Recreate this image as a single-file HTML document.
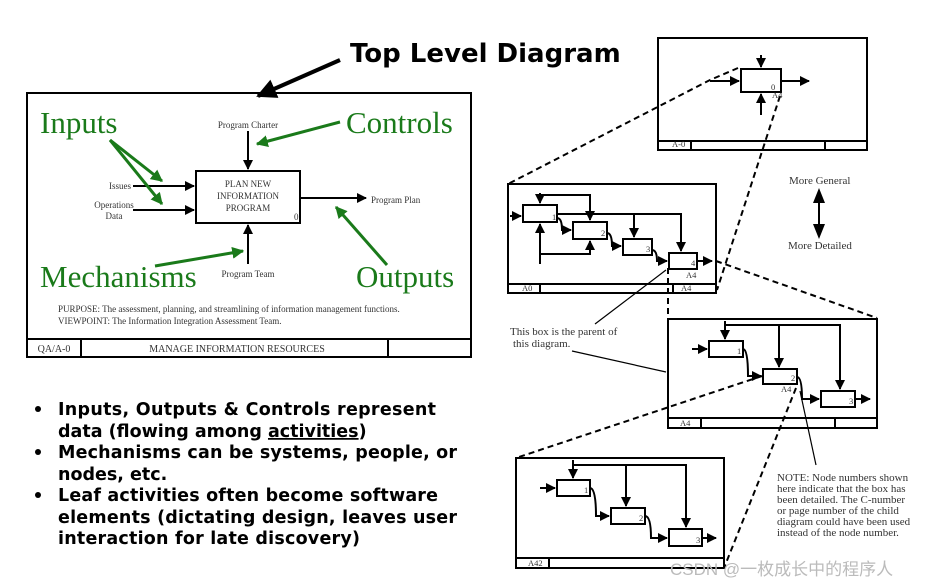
<!DOCTYPE html>
<html><head><meta charset="utf-8"><style>
html,body{margin:0;padding:0;background:#fff;width:937px;height:587px;overflow:hidden}
svg{display:block}
.s{font-family:"Liberation Serif",serif;fill:#333}
.g{font-family:"Liberation Serif",serif;fill:#1a7a1a}
.b{font-family:"DejaVu Sans","Liberation Sans",sans-serif;font-weight:bold;fill:#000}
</style></head><body>
<svg width="937" height="587" viewBox="0 0 937 587" xmlns="http://www.w3.org/2000/svg">
<defs>
<marker id="a" viewBox="0 0 10 10" refX="9" refY="5" markerWidth="5" markerHeight="5" orient="auto"><path d="M0,0L10,5L0,10z" fill="#000"/></marker>
<marker id="ag" viewBox="0 0 10 10" refX="9" refY="5" markerWidth="4" markerHeight="4" orient="auto"><path d="M0,0L10,5L0,10z" fill="#1a7a1a"/></marker>
</defs>
<text x="350" y="62" class="b" font-size="26">Top Level Diagram</text>
<line x1="340" y1="60" x2="258" y2="96" stroke="#000" stroke-width="4" marker-end="url(#a)"/>
<g fill="none" stroke="#000" stroke-width="2">
<rect x="27" y="93" width="444" height="264"/>
<line x1="27" y1="339" x2="471" y2="339"/><line x1="81" y1="339" x2="81" y2="357"/><line x1="388" y1="339" x2="388" y2="357"/>
<rect x="196" y="171" width="104" height="52"/>
</g>
<g stroke="#000" stroke-width="2" fill="none">
<line x1="133" y1="186" x2="194" y2="186" marker-end="url(#a)"/>
<line x1="133" y1="210" x2="194" y2="210" marker-end="url(#a)"/>
<line x1="248" y1="131" x2="248" y2="169" marker-end="url(#a)"/>
<line x1="248" y1="264" x2="248" y2="225" marker-end="url(#a)"/>
<line x1="300" y1="198" x2="366" y2="198" marker-end="url(#a)"/>
</g>
<g stroke="#1a7a1a" stroke-width="3" fill="none">
<line x1="110" y1="140" x2="162" y2="181" marker-end="url(#ag)"/>
<line x1="110" y1="140" x2="162" y2="204" marker-end="url(#ag)"/>
<line x1="340" y1="122" x2="257" y2="144" marker-end="url(#ag)"/>
<line x1="155" y1="266" x2="243" y2="251" marker-end="url(#ag)"/>
<line x1="387" y1="265" x2="336" y2="207" marker-end="url(#ag)"/>
</g>
<text x="40" y="133" class="g" font-size="31">Inputs</text>
<text x="346" y="133" class="g" font-size="31">Controls</text>
<text x="40" y="287" class="g" font-size="31">Mechanisms</text>
<text x="356" y="287" class="g" font-size="31">Outputs</text>
<g class="s" font-size="9">
<text x="248" y="128" text-anchor="middle">Program Charter</text>
<text x="248" y="277" text-anchor="middle">Program Team</text>
<text x="131" y="189" text-anchor="end">Issues</text>
<text x="114" y="208" text-anchor="middle">Operations</text><text x="114" y="219" text-anchor="middle">Data</text>
<text x="371" y="203">Program Plan</text>
<text x="248" y="187" text-anchor="middle">PLAN NEW</text>
<text x="248" y="199" text-anchor="middle">INFORMATION</text>
<text x="248" y="211" text-anchor="middle">PROGRAM</text>
<text x="294" y="220">0</text>
<text x="58" y="312">PURPOSE: The assessment, planning, and streamlining of information management functions.</text>
<text x="58" y="324">VIEWPOINT: The Information Integration Assessment Team.</text>
<text x="54" y="352" text-anchor="middle" font-size="10">QA/A-0</text>
<text x="237" y="352" text-anchor="middle" font-size="10">MANAGE INFORMATION RESOURCES</text>
</g>
<g class="b" font-size="17.5">
<circle cx="38" cy="409" r="3" fill="#000"/><circle cx="38" cy="452" r="3" fill="#000"/><circle cx="38" cy="495" r="3" fill="#000"/>
<text x="58" y="415" textLength="378">Inputs, Outputs &amp; Controls represent</text>
<text x="58" y="437">data (flowing among <tspan text-decoration="underline">activities</tspan>)</text>
<text x="58" y="458" textLength="399">Mechanisms can be systems, people, or</text>
<text x="58" y="480">nodes, etc.</text>
<text x="58" y="501" textLength="380">Leaf activities often become software</text>
<text x="58" y="523" textLength="399">elements (dictating design, leaves user</text>
<text x="58" y="544" textLength="302">interaction for late discovery)</text>
</g>
<g fill="none" stroke="#000" stroke-width="2">
<rect x="658" y="38" width="209" height="112"/><line x1="658" y1="141" x2="867" y2="141"/><line x1="691" y1="141" x2="691" y2="150"/><line x1="825" y1="141" x2="825" y2="150"/>
<rect x="741" y="69" width="40" height="23"/>
<rect x="508" y="184" width="208" height="109"/><line x1="508" y1="284" x2="716" y2="284"/><line x1="540" y1="284" x2="540" y2="293"/><line x1="673" y1="284" x2="673" y2="293"/>
<rect x="523" y="205" width="34" height="17"/><rect x="573" y="222" width="34" height="17"/><rect x="623" y="239" width="29" height="16"/><rect x="669" y="253" width="28" height="16"/>
<rect x="668" y="319" width="209" height="109"/><line x1="668" y1="418" x2="877" y2="418"/><line x1="701" y1="418" x2="701" y2="428"/><line x1="835" y1="418" x2="835" y2="428"/>
<rect x="709" y="341" width="34" height="16"/><rect x="763" y="369" width="34" height="15"/><rect x="821" y="391" width="34" height="16"/>
<rect x="516" y="458" width="208" height="110"/><line x1="516" y1="558" x2="724" y2="558"/><line x1="549" y1="558" x2="549" y2="568"/>
<rect x="557" y="480" width="33" height="16"/><rect x="611" y="508" width="34" height="16"/><rect x="669" y="529" width="33" height="17"/>
</g>
<g fill="none" stroke="#000" stroke-width="2">
<line x1="710" y1="81" x2="739" y2="81" marker-end="url(#a)"/><line x1="761" y1="55" x2="761" y2="67" marker-end="url(#a)"/><line x1="761" y1="115" x2="761" y2="94" marker-end="url(#a)"/><line x1="781" y1="81" x2="809" y2="81" marker-end="url(#a)"/>
<line x1="510" y1="216" x2="521" y2="216" marker-end="url(#a)"/>
<path d="M540 193V203" marker-end="url(#a)"/><path d="M540 195H590V220" marker-end="url(#a)"/>
<path d="M557 214H681V251" marker-end="url(#a)"/><path d="M634 214V237" marker-end="url(#a)"/>
<path d="M557 218Q562 218 562 230H571" marker-end="url(#a)"/>
<path d="M607 233Q612 233 612 246H621" marker-end="url(#a)"/>
<path d="M652 250Q657 250 657 261H667" marker-end="url(#a)"/>
<path d="M540 264V224" marker-end="url(#a)"/><path d="M540 254H590V241" marker-end="url(#a)"/>
<line x1="697" y1="261" x2="712" y2="261" marker-end="url(#a)"/>
<line x1="692" y1="349" x2="707" y2="349" marker-end="url(#a)"/>
<path d="M725 321V339" marker-end="url(#a)"/><path d="M725 325H840V389" marker-end="url(#a)"/><path d="M779 325V367" marker-end="url(#a)"/>
<path d="M743 349Q748 349 748 376H761" marker-end="url(#a)"/>
<path d="M797 377Q802 377 802 399H819" marker-end="url(#a)"/>
<line x1="855" y1="399" x2="870" y2="399" marker-end="url(#a)"/>
<line x1="540" y1="488" x2="555" y2="488" marker-end="url(#a)"/>
<path d="M573 460V478" marker-end="url(#a)"/><path d="M573 465H686V527" marker-end="url(#a)"/><path d="M626 465V506" marker-end="url(#a)"/>
<path d="M590 488Q596 488 596 516H609" marker-end="url(#a)"/>
<path d="M645 516Q651 516 651 538H667" marker-end="url(#a)"/>
<line x1="702" y1="538" x2="716" y2="538" marker-end="url(#a)"/>
<line x1="819" y1="192" x2="819" y2="235"/>
</g>
<path d="M813 203L819 188L825 203z M813 224L819 239L825 224z" fill="#000"/>
<g fill="none" stroke="#000" stroke-width="2" stroke-dasharray="6,4">
<path d="M738 68L710 80L508 184"/><path d="M780 96L717 290"/>
<path d="M716 261L877 318"/><path d="M668 268V318"/>
<path d="M762 376L516 458"/><path d="M796 388L724 568"/>
</g>
<g stroke="#000" stroke-width="1.2">
<line x1="666" y1="270" x2="595" y2="324"/><line x1="572" y1="351" x2="666" y2="372"/><line x1="800" y1="391" x2="816" y2="465"/>
</g>
<g class="s" font-size="8.5" fill="#000">
<text x="771" y="90">0</text><text x="772" y="98">A4</text>
<text x="672" y="147">A-0</text><text x="522" y="291">A0</text><text x="681" y="291">A4</text><text x="528" y="566">A42</text><text x="680" y="426">A4</text>
<text x="552" y="220">1</text><text x="601" y="236">2</text><text x="646" y="252">3</text><text x="691" y="266">4</text><text x="686" y="278">A4</text>
<text x="737" y="354">1</text><text x="791" y="381">2</text><text x="781" y="392">A4</text><text x="849" y="404">3</text>
<text x="584" y="493">1</text><text x="639" y="521">2</text><text x="696" y="543">3</text>
</g>
<g class="s" font-size="11" fill="#000">
<text x="789" y="184">More General</text><text x="788" y="249">More Detailed</text>
<text x="510" y="335">This box is the parent of</text><text x="513" y="347">this diagram.</text>
<text x="777" y="481">NOTE:  Node numbers shown</text><text x="777" y="492">here indicate that the box has</text><text x="777" y="503">been detailed.  The C-number</text><text x="777" y="514">or page number of the child</text><text x="777" y="525">diagram could have been used</text><text x="777" y="536">instead of the node number.</text>
</g>
<text x="670" y="575" font-family="'Liberation Sans','Noto Sans CJK SC',sans-serif" font-size="17" fill="#bbb">CSDN @一枚成长中的程序人</text>
</svg>
</body></html>
